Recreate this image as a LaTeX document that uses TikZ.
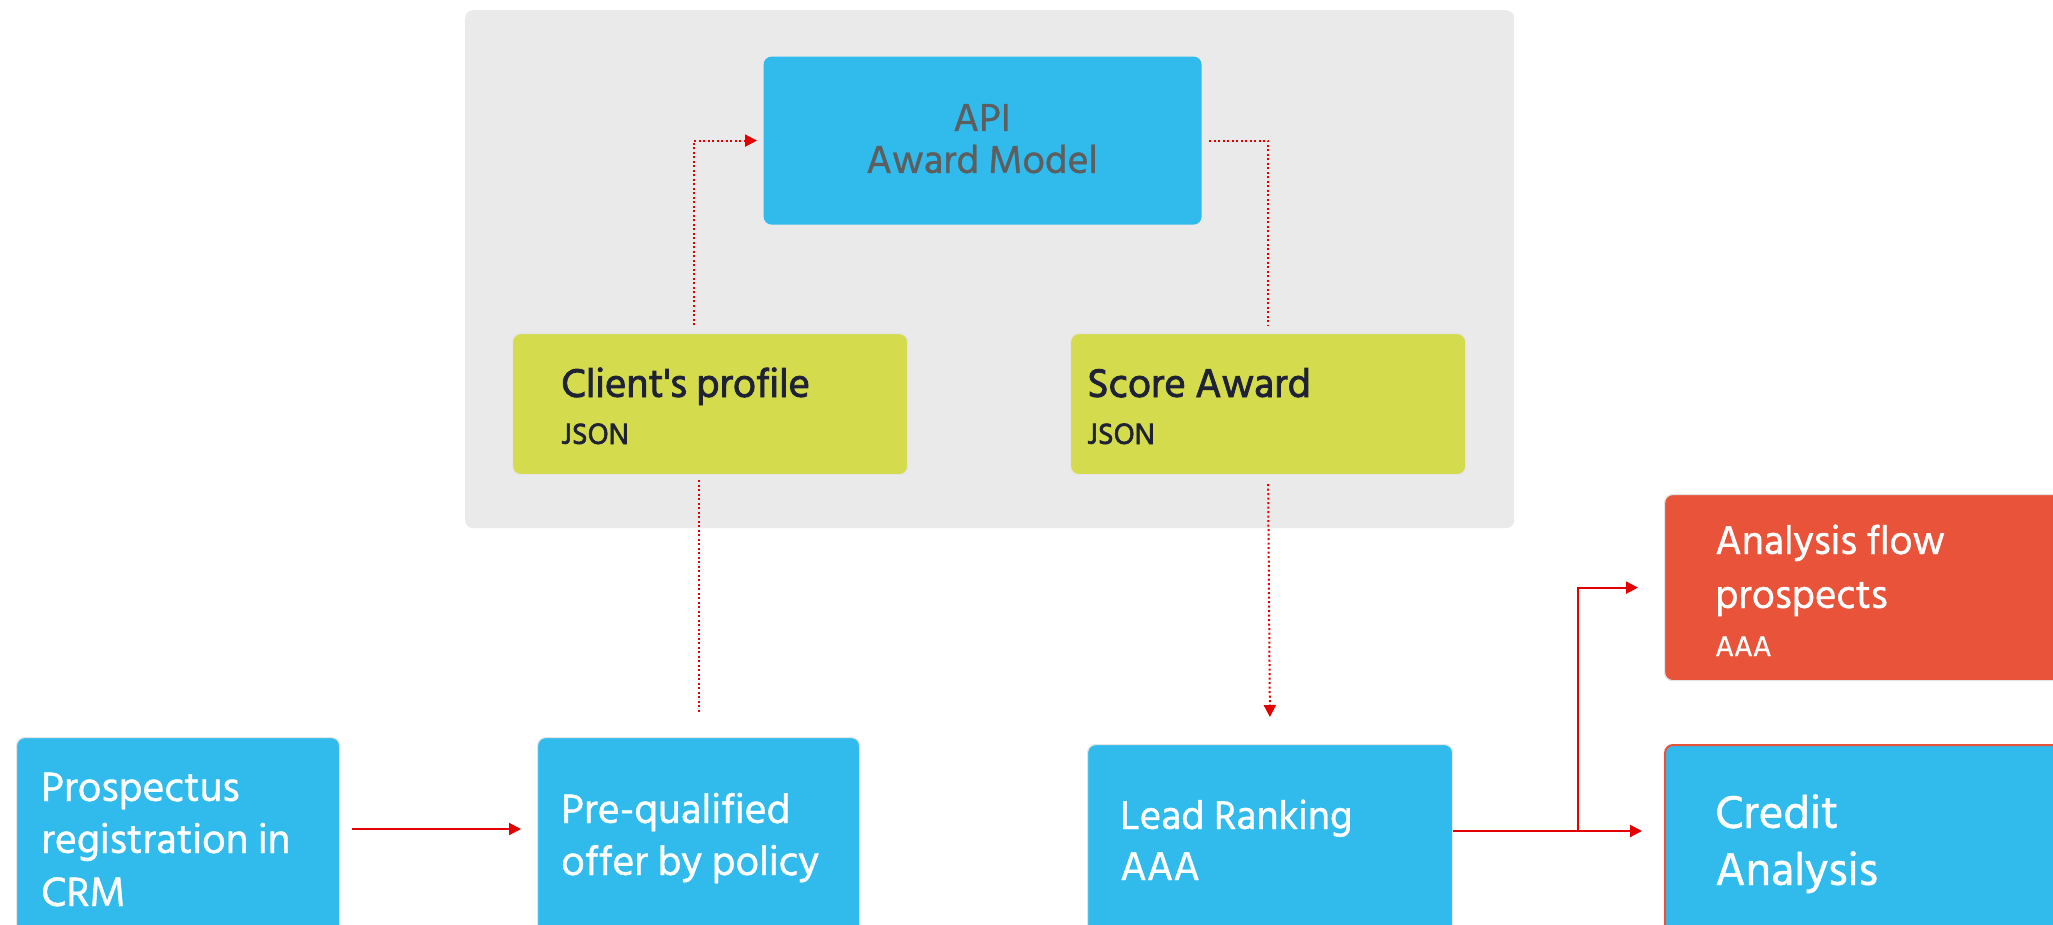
\documentclass[tikz,border=0pt]{standalone}
\usepackage{fontspec}
\setmainfont{Hind Siliguri}
\newfontfamily\hmed{Hind Siliguri}[FakeBold=1.0]
\newfontfamily\hsemi{Hind Siliguri}[FakeBold=2.0]
\usetikzlibrary{arrows.meta}
\definecolor{cblue}{HTML}{31BBEC}
\definecolor{cyell}{HTML}{D4DB4D}
\definecolor{cred}{HTML}{E9533A}
\definecolor{cpanel}{HTML}{EAEAEA}
\definecolor{cdark}{HTML}{1F2234}
\definecolor{cgrey}{HTML}{5E5E5E}
\definecolor{carrow}{HTML}{E30000}
\tikzset{
  boxbase/.style={anchor=north west, inner sep=0pt, rounded corners=8pt, draw=black!10, line width=1.2pt},
  bluebox/.style={boxbase, fill=cblue},
  yellbox/.style={boxbase, fill=cyell},
  redbox/.style={boxbase, fill=cred},
  tx/.style={anchor=base west, inner sep=0pt},
  solidarr/.style={draw=carrow, line width=2pt, -{Triangle[length=12pt,width=12pt]}},
  dotline/.style={draw=carrow, line width=2pt, dash pattern=on 2pt off 2.5pt},
  dotarr/.style={dotline, -{Triangle[length=12pt,width=12pt]}},
}
\begin{document}
\begin{tikzpicture}[x=1pt,y=-1pt]
\useasboundingbox (0,0) rectangle (2053,925);
\clip (0,0) rectangle (2053,925);
% panel
\node[anchor=north west, inner sep=0pt, rounded corners=8pt, fill=cpanel, minimum width=1049pt, minimum height=518pt] (panel) at (465,10) {};
% boxes
\node[boxbase, fill=cblue, draw=none, minimum width=438pt, minimum height=168pt] (api) at (763,56) {};
\node[yellbox, minimum width=395pt, minimum height=141pt] (client) at (512,333) {};
\node[yellbox, minimum width=395pt, minimum height=141pt] (score) at (1070,333) {};
\node[bluebox, minimum width=323pt, minimum height=250pt] (prosp) at (16,737) {};
\node[bluebox, minimum width=322pt, minimum height=250pt] (preq) at (537,737) {};
\node[bluebox, minimum width=365pt, minimum height=250pt] (lead) at (1087,744) {};
\node[redbox, minimum width=450pt, minimum height=186pt] (anal) at (1664,494) {};
\node[bluebox, draw=cred, line width=2pt, minimum width=450pt, minimum height=250pt] (credit) at (1664,744) {};
% texts
\node[anchor=base, inner sep=0pt, text=cgrey, font=\hmed\fontsize{40}{44}\selectfont] (t1) at (982,131) {API};
\node[anchor=base, inner sep=0pt, text=cgrey, font=\hmed\fontsize{40}{44}\selectfont] (t2) at (982,173) {Award Model};
\node[tx, text=cdark, font=\hsemi\fontsize{41}{44}\selectfont] (t3) at (561,397) {Client\textquotesingle s profile};
\node[tx, text=cdark, font=\hsemi\fontsize{30}{34}\selectfont] (t4) at (561,444) {JSON};
\node[tx, text=cdark, font=\hsemi\fontsize{41}{44}\selectfont] (t5) at (1087,397) {Score Award};
\node[tx, text=cdark, font=\hsemi\fontsize{30}{34}\selectfont] (t6) at (1087,444) {JSON};
\node[tx, text=white, font=\hmed\fontsize{42}{46}\selectfont] (t7) at (41,801) {Prospectus};
\node[tx, text=white, font=\hmed\fontsize{42}{46}\selectfont] (t8) at (41,853) {registration in};
\node[tx, text=white, font=\hmed\fontsize{42}{46}\selectfont] (t9) at (41,906) {CRM};
\node[tx, text=white, font=\hmed\fontsize{42}{46}\selectfont] (t10) at (561,823) {Pre-qualified};
\node[tx, text=white, font=\hmed\fontsize{42}{46}\selectfont] (t11) at (561,875) {offer by policy};
\node[tx, text=white, font=\hmed\fontsize{41}{44}\selectfont] (t12) at (1120,829) {Lead Ranking};
\node[tx, text=white, font=\hmed\fontsize{41}{44}\selectfont] (t13) at (1120,880) {AAA};
\node[tx, text=white, font=\hmed\fontsize{41}{44}\selectfont] (t14) at (1715,554) {Analysis flow};
\node[tx, text=white, font=\hmed\fontsize{41}{44}\selectfont] (t15) at (1715,608) {prospects};
\node[tx, text=white, font=\hmed\fontsize{29}{32}\selectfont] (t16) at (1715,656) {AAA};
\node[tx, text=white, font=\hmed\fontsize{47}{50}\selectfont] (t17) at (1715,828) {Credit};
\node[tx, text=white, font=\hmed\fontsize{47}{50}\selectfont] (t18) at (1715,885) {Analysis};
% helper coordinates
\coordinate (xc) at (694,0);
\coordinate (ym1) at (0,829);
\coordinate (ym2) at (0,831);
\coordinate (br) at (1578,831);
% connectors
\draw[dotarr, shorten <=8pt, shorten >=6pt] (client.north -| xc) |- (api.west);
\draw[dotline, shorten <=7pt, shorten >=8pt] (api.east) -| (score.north);
\draw[dotline, shorten <=5pt, shorten >=25pt] (client.south -| preq.north) -- (preq.north);
\draw[dotarr, shorten <=9pt, shorten >=27pt] (score.south) -- (lead.north);
\draw[solidarr, shorten <=12pt, shorten >=16pt] (prosp.east |- ym1) -- (preq.west |- ym1);
\draw[solidarr, shorten >=22pt] (lead.east |- ym2) -- (credit.west |- ym2);
\draw[solidarr, shorten >=26pt] (br) |- (anal.west);
\end{tikzpicture}
\end{document}
